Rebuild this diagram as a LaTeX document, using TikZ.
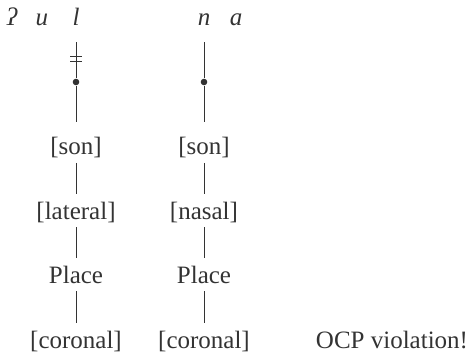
\documentclass[tikz,border=0pt]{standalone}
\usepackage{fontspec}
\setmainfont{Liberation Serif}
\usepackage{tikz}

\begin{document}
\begin{tikzpicture}[x=0.5pt,y=-0.5pt,font=\fontsize{12.5}{15}\selectfont,color=black!80,line width=0.5pt,
  feat/.style={inner sep=0pt,text height=8.5pt,text depth=2.25pt,anchor=base},
  seg/.style={feat,font=\fontsize{12.5}{15}\selectfont\itshape},
  root/.style={circle,fill,inner sep=0pt,minimum size=3.3pt},
  link/.style={shorten <=1.5pt,shorten >=4pt}]
\useasboundingbox (0,0) rectangle (470,352);
% segments
\node[seg] (glot) at (12,26) {ʔ};
\node[seg] (u) at (42,26) {u};
\node[seg] (l) at (76,26) {l};
\node[seg] (n) at (204,26) {n};
\node[seg] (a) at (236,26) {a};
% root nodes
\node[root] (rootL) at (76,82) {};
\node[root] (rootN) at (204,82) {};
% feature trees
\node[feat] (sonL) at (76,155) {[son]};
\node[feat] (sonN) at (204,155) {[son]};
\node[feat] (latL) at (76,219) {[lateral]};
\node[feat] (nasN) at (204,219) {[nasal]};
\node[feat] (placeL) at (76,283) {Place};
\node[feat] (placeN) at (204,283) {Place};
\node[feat] (corL) at (76,348) {[coronal]};
\node[feat] (corN) at (204,348) {[coronal]};
\node[feat] (ocp) at (392,348) {OCP violation!};
% association lines
\draw[shorten <=5.75pt] (l) -- coordinate[pos=.59] (cut) (rootL);
\draw ([shift={(-6,-2.5)}]cut) -- ([shift={(6,-2.5)}]cut);
\draw ([shift={(-6,2.5)}]cut) -- ([shift={(6,2.5)}]cut);
\draw[shorten <=5.75pt] (n) -- (rootN);
\draw[shorten >=7.5pt] (rootL) -- (sonL);
\draw[shorten >=7.5pt] (rootN) -- (sonN);
\draw[link] (sonL) -- (latL);
\draw[link] (sonN) -- (nasN);
\draw[link] (latL) -- (placeL);
\draw[link] (nasN) -- (placeN);
\draw[link] (placeL) -- (corL);
\draw[link] (placeN) -- (corN);
\end{tikzpicture}
\end{document}
